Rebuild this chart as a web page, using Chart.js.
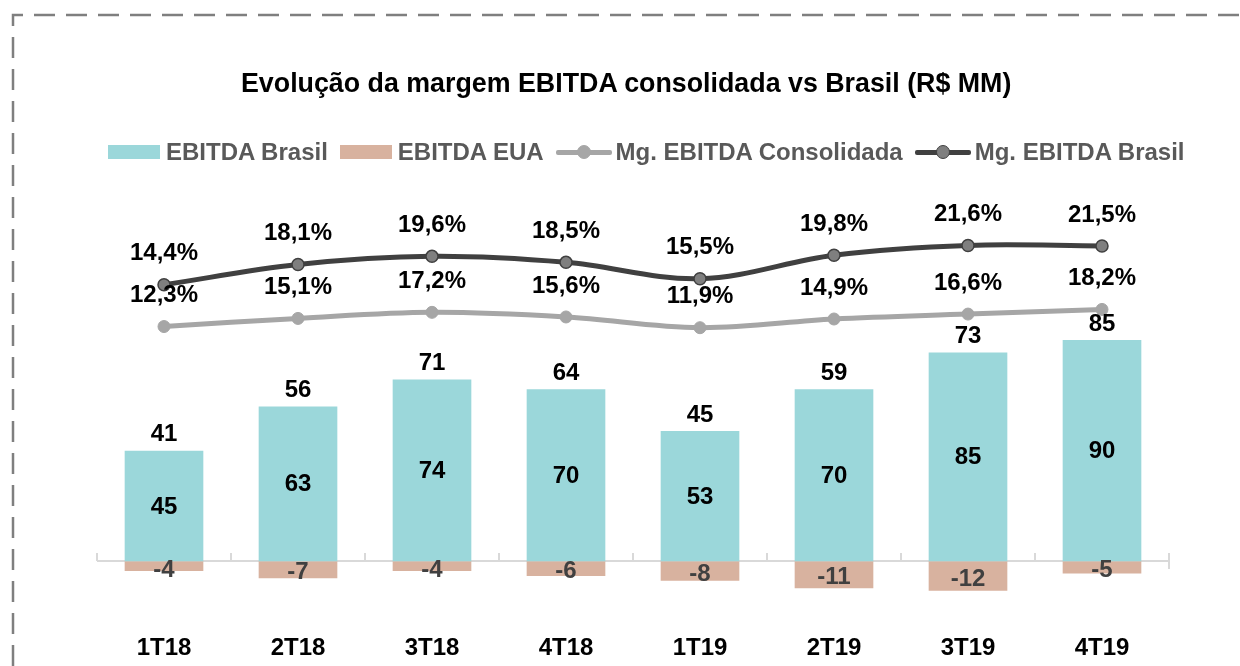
<!DOCTYPE html>
<html lang="pt-BR">
<head>
<meta charset="utf-8">
<title>Evolução da margem EBITDA</title>
<script src="https://cdn.jsdelivr.net/npm/chart.js@4.4.1/dist/chart.umd.min.js"></script>
<style>
    html, body { margin: 0; padding: 0; background: #fff; }
    body { width: 1240px; height: 666px; position: relative; overflow: hidden;
           font-family: "Liberation Sans", Arial, sans-serif; }
    #frame { position: absolute; left: 0; top: 0; }
    #wrap { position: absolute; left: 0; top: 0; width: 1240px; height: 666px; }
    #title { position: absolute; left: 241px; top: 67px; line-height: 32px;
             font-size: 26.8px; font-weight: bold; color: #000; white-space: nowrap; }
    #legend { position: absolute; left: 108px; top: 138px; height: 28px;
              display: flex; align-items: center; white-space: nowrap; }
    .item { display: flex; align-items: center; margin-right: 12px;
            font-size: 24px; font-weight: bold; color: #595959; line-height: 28px; }
    .box { width: 52px; height: 14px; margin-right: 6px; }
    .line { position: relative; width: 56px; height: 14px; margin-right: 4px; }
    .line .bar { position: absolute; left: 0; right: 0; top: 5px; height: 5px; border-radius: 2px; }
    .line .dot { position: absolute; left: 21px; top: 0; width: 14px; height: 14px;
                 border-radius: 50%; box-sizing: border-box; }
</style>
</head>
<body>
<svg id="frame" width="1240" height="666">
    <path d="M13 666 V15 H1240" fill="none" stroke="#7f7f7f" stroke-width="2.5" stroke-dasharray="21 11"/>
</svg>
<div id="wrap"><canvas id="ebitdaChart"></canvas></div>
<div id="title">Evolução da margem EBITDA consolidada vs Brasil (R$ MM)</div>
<div id="legend"></div>

<script>
// Dados do gráfico
const categorias = ['1T18', '2T18', '3T18', '4T18', '1T19', '2T19', '3T19', '4T19'];
const ebitdaBrasil = [45, 63, 74, 70, 53, 70, 85, 90];
const ebitdaEua = [-4, -7, -4, -6, -8, -11, -12, -5];
const ebitdaTotal = [41, 56, 71, 64, 45, 59, 73, 85];
const mgConsolidada = [12.3, 15.1, 17.2, 15.6, 11.9, 14.9, 16.6, 18.2];
const mgBrasil = [14.4, 18.1, 19.6, 18.5, 15.5, 19.8, 21.6, 21.5];

const FONT = '"Liberation Sans", Arial, sans-serif';

function fmtPct(v) {
    return v.toFixed(1).replace('.', ',') + '%';
}

/**
 * Zero line with category tick marks
 */
const zeroAxis = {
    id: 'zeroAxis',
    beforeDatasetsDraw(chart) {
        const { ctx, scales: { x, y } } = chart;
        const y0 = Math.round(y.getPixelForValue(0));
        const n = categorias.length;
        const step = x.width / n;
        ctx.save();
        ctx.strokeStyle = '#d9d9d9';
        ctx.lineWidth = 2;
        ctx.beginPath();
        ctx.moveTo(x.left, y0);
        ctx.lineTo(x.right, y0);
        for (let i = 0; i <= n; i++) {
            const px = Math.round(x.left + i * step);
            ctx.moveTo(px, y0);
            ctx.lineTo(px, y0 - 8);
            if (i === n) {
                ctx.moveTo(px, y0);
                ctx.lineTo(px, y0 + 8);
            }
        }
        ctx.stroke();
        ctx.restore();
    }
};

/**
 * Data labels
 */
const dataLabels = {
    id: 'dataLabels',
    afterDatasetsDraw(chart) {
        const { ctx } = chart;
        ctx.save();
        ctx.textAlign = 'center';
        ctx.textBaseline = 'middle';
        ctx.font = 'bold 24px ' + FONT;

        const brMeta = chart.getDatasetMeta(0);
        const euaMeta = chart.getDatasetMeta(1);

        brMeta.data.forEach((bar, i) => {
            ctx.fillStyle = '#000';
            ctx.fillText(ebitdaBrasil[i], bar.x, (bar.y + bar.base) / 2 + 1);
            ctx.fillText(ebitdaTotal[i], bar.x, bar.y - 16);
        });

        euaMeta.data.forEach((bar, i) => {
            ctx.fillStyle = '#404040';
            const cy = Math.max((bar.y + bar.base) / 2 + 3, bar.base + 9);
            ctx.fillText(ebitdaEua[i], bar.x, cy);
        });

        [[2, mgConsolidada], [3, mgBrasil]].forEach(([idx, values]) => {
            chart.getDatasetMeta(idx).data.forEach((pt, i) => {
                ctx.fillStyle = '#000';
                ctx.fillText(fmtPct(values[i]), pt.x, pt.y - 31);
            });
        });
        ctx.restore();
    }
};

const ctx = document.getElementById('ebitdaChart');

const chart = new Chart(ctx, {
    type: 'bar',
    data: {
        labels: categorias,
        datasets: [
            {
                label: 'EBITDA Brasil',
                data: ebitdaBrasil,
                backgroundColor: '#9bd7da',
                stack: 'ebitda',
                yAxisID: 'y',
                order: 3,
                barPercentage: 0.587,
                categoryPercentage: 1
            },
            {
                label: 'EBITDA EUA',
                data: ebitdaEua,
                backgroundColor: '#d8b29f',
                stack: 'ebitda',
                yAxisID: 'y',
                order: 3,
                barPercentage: 0.587,
                categoryPercentage: 1
            },
            {
                type: 'line',
                label: 'Mg. EBITDA Consolidada',
                data: mgConsolidada,
                yAxisID: 'yCons',
                borderColor: '#a6a6a6',
                backgroundColor: '#a6a6a6',
                borderWidth: 5,
                pointRadius: 6,
                pointBorderWidth: 1,
                pointBorderColor: '#a6a6a6',
                pointBackgroundColor: '#a6a6a6',
                tension: 0.35,
                order: 2
            },
            {
                type: 'line',
                label: 'Mg. EBITDA Brasil',
                data: mgBrasil,
                yAxisID: 'yBr',
                borderColor: '#404040',
                backgroundColor: '#7f7f7f',
                borderWidth: 5,
                pointRadius: 6,
                pointBorderWidth: 1.5,
                pointBorderColor: '#404040',
                pointBackgroundColor: '#7f7f7f',
                tension: 0.35,
                order: 1
            }
        ]
    },
    options: {
        responsive: true,
        maintainAspectRatio: false,
        animation: false,
        layout: {
            padding: { top: 205, left: 97, right: 71, bottom: -8 }
        },
        plugins: {
            legend: { display: false },
            title: { display: false },
            tooltip: { enabled: false }
        },
        scales: {
            x: {
                grid: { display: false },
                border: { display: false },
                ticks: {
                    color: '#000',
                    padding: 11,
                    font: { family: FONT, size: 24, weight: 'bold' }
                }
            },
            y: {
                display: false,
                stacked: true,
                min: -22,
                max: 145
            },
            yCons: {
                display: false,
                min: -87.2,
                max: 54.2
            },
            yBr: {
                display: false,
                min: -46.1,
                max: 29
            }
        }
    },
    plugins: [zeroAxis, dataLabels]
});

/**
 * Build legend from datasets
 */
function buildLegend() {
    const legend = document.getElementById('legend');
    chart.data.datasets.forEach(ds => {
        const item = document.createElement('div');
        item.className = 'item';
        let symbol;
        if (ds.type === 'line') {
            symbol = document.createElement('div');
            symbol.className = 'line';
            symbol.innerHTML =
                `<div class="bar" style="background:${ds.borderColor}"></div>` +
                `<div class="dot" style="background:${ds.pointBackgroundColor};border:1.5px solid ${ds.pointBorderColor}"></div>`;
        } else {
            symbol = document.createElement('div');
            symbol.className = 'box';
            symbol.style.background = ds.backgroundColor;
        }
        const text = document.createElement('span');
        text.textContent = ds.label;
        item.appendChild(symbol);
        item.appendChild(text);
        legend.appendChild(item);
    });
}

buildLegend();
</script>
</body>
</html>
